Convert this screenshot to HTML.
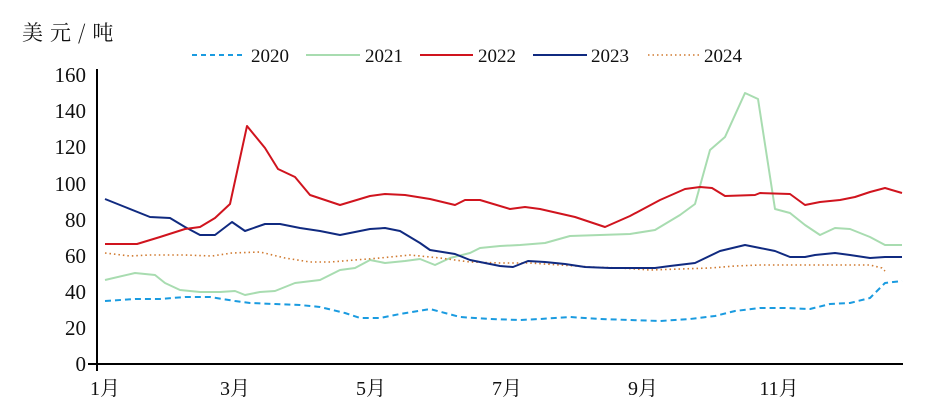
<!DOCTYPE html>
<html><head><meta charset="utf-8"><style>
body{margin:0;background:#fff;}
svg{display:block;}
text{font-family:"Liberation Serif","Noto Serif CJK SC",serif;fill:#111;}
.t{font-family:"Noto Serif CJK SC","Liberation Serif",serif;letter-spacing:7px;}
</style></head><body>
<svg width="926" height="413" viewBox="0 0 926 413" xmlns="http://www.w3.org/2000/svg">
<text class="t" x="22" y="40" font-size="21">美元/吨</text>
<g font-size="19">
<line x1="192" y1="55" x2="246" y2="55" stroke="#1a9be0" stroke-width="2" stroke-dasharray="5,4"/><text x="251" y="62">2020</text>
<line x1="306" y1="55" x2="360" y2="55" stroke="#a8dcb0" stroke-width="2"/><text x="365" y="62">2021</text>
<line x1="420" y1="55" x2="473" y2="55" stroke="#d0141e" stroke-width="2"/><text x="478" y="62">2022</text>
<line x1="533" y1="55" x2="587" y2="55" stroke="#102a80" stroke-width="2"/><text x="591" y="62">2023</text>
<line x1="648" y1="55" x2="700" y2="55" stroke="#d07a30" stroke-width="1.6" stroke-dasharray="1.5,3"/><text x="704" y="62">2024</text>
</g>
<g font-size="21" text-anchor="end">
<text x="86" y="371">0</text><text x="86" y="335">20</text><text x="86" y="299">40</text><text x="86" y="263">60</text>
<text x="86" y="227">80</text><text x="86" y="191">100</text><text x="86" y="154">120</text><text x="86" y="118">140</text><text x="86" y="82">160</text>
</g>
<g font-size="20" text-anchor="middle">
<text x="105" y="395">1月</text><text x="235" y="395">3月</text><text x="371" y="395">5月</text>
<text x="507" y="395">7月</text><text x="643" y="395">9月</text><text x="779" y="395">11月</text>
</g>
<line x1="97" y1="69" x2="97" y2="371" stroke="#000" stroke-width="2"/>
<line x1="88" y1="364" x2="903" y2="364" stroke="#000" stroke-width="2"/>
<g fill="none" stroke-linejoin="round">
<polyline stroke="#1a9be0" stroke-width="2" stroke-dasharray="6,4" points="105,301 135,299 160,299 185,297 210,297 235,301 250,303 275,304 300,305 320,307 345,313 360,318 380,318 400,314 430,309 460,317 490,319 520,320 540,319 570,317 600,319 630,320 660,321 690,319 715,316 735,311 760,308 785,308 810,309 830,304 850,303 870,298 885,283 902,281"/>
<polyline stroke="#a8dcb0" stroke-width="2" points="105,280 135,273 155,275 165,283 180,290 200,292 220,292 235,291 245,295 260,292 275,291 295,283 320,280 340,270 355,268 370,260 385,263 405,261 420,259 435,265 450,258 470,253 480,248 500,246 520,245 545,243 570,236 600,235 630,234 655,230 680,215 695,204 710,150 725,137 745,93 758,99 775,209 790,213 805,225 820,235 835,228 850,229 870,237 885,245 902,245"/>
<polyline stroke="#d07a30" stroke-width="1.6" stroke-dasharray="1.5,3" points="105,253 130,256 150,255 185,255 212,256 232,253 260,252 285,258 310,262 330,262 355,260 380,258 410,255 440,258 470,262 500,263 530,263 560,265 590,267 620,268 650,270 680,269 710,268 735,266 760,265 790,265 820,265 850,265 870,265 882,268 885,271"/>
<polyline stroke="#102a80" stroke-width="2" points="105,199 125,207 150,217 170,218 185,227 200,235 215,235 232,222 245,231 265,224 280,224 300,228 320,231 340,235 355,232 370,229 385,228 400,231 420,243 430,250 455,254 470,260 485,263 500,266 513,267 528,261 545,262 565,264 585,267 610,268 635,268 655,268 670,266 695,263 720,251 745,245 760,248 775,251 790,257 805,257 815,255 835,253 850,255 870,258 885,257 902,257"/>
<polyline stroke="#d0141e" stroke-width="2" points="105,244 137,244 160,237 185,229 200,227 215,218 230,204 247,126 265,148 278,169 295,177 310,195 340,205 370,196 385,194 405,195 430,199 455,205 465,200 480,200 510,209 525,207 540,209 575,217 605,227 630,216 660,200 685,189 700,187 712,188 725,196 755,195 760,193 790,194 805,205 820,202 840,200 855,197 870,192 885,188 902,193"/>
</g>
</svg>
</body></html>
